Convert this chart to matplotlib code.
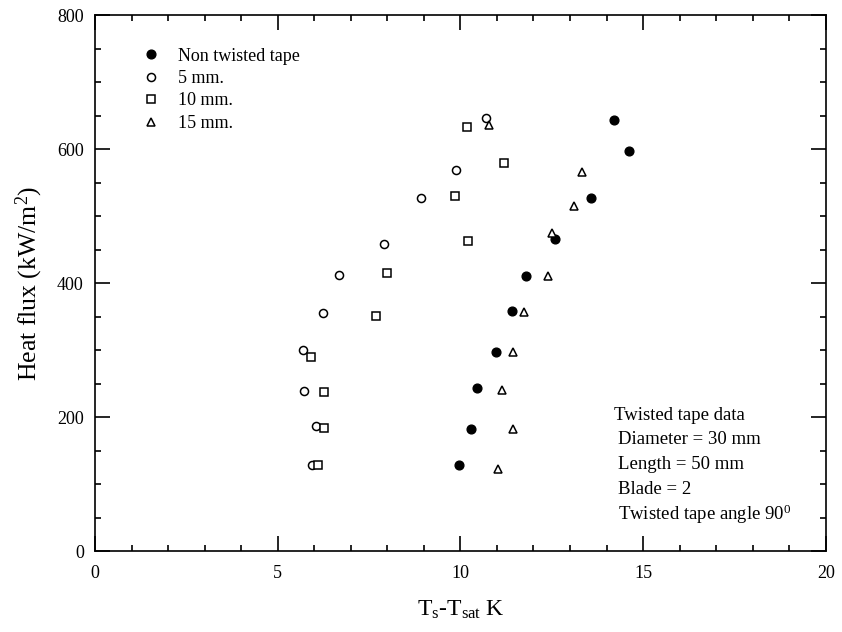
import matplotlib.pyplot as plt
from matplotlib.ticker import MultipleLocator

plt.rcParams['font.family'] = ['Liberation Serif', 'DejaVu Serif']
plt.rcParams['mathtext.fontset'] = 'custom'
plt.rcParams['mathtext.rm'] = 'Liberation Serif'
plt.rcParams['mathtext.it'] = 'Liberation Serif'

# Ts - Tsat (K) and heat flux (kW/m2)
plain_dt = [14.21, 14.62, 13.58, 12.6, 11.8, 11.42, 10.98, 10.46, 10.3, 9.97]
plain_q = [643, 597, 527, 466, 410, 358, 297, 243, 183, 128]

tape5_dt = [10.71, 9.89, 8.93, 7.92, 6.69, 6.23, 5.68, 5.71, 6.04, 5.93]
tape5_q = [646, 569, 527, 458, 412, 355, 300, 239, 187, 128]

tape10_dt = [10.19, 11.18, 9.84, 10.22, 8.0, 7.68, 5.9, 6.26, 6.26, 6.09]
tape10_q = [633, 579, 530, 463, 415, 351, 290, 238, 184, 128]

tape15_dt = [10.79, 13.33, 13.11, 12.51, 12.4, 11.75, 11.45, 11.15, 11.45, 11.04]
tape15_q = [636, 566, 515, 475, 410, 357, 297, 240, 182, 122]

fig = plt.figure(figsize=(8.42, 6.32), dpi=100)
ax = fig.add_axes([0.1128, 0.128, 0.868, 0.848])

ax.plot(plain_dt, plain_q, 'o', color='black', markersize=6.3, label='Non twisted tape')
ax.plot(tape5_dt, tape5_q, 'o', mfc='white', mec='black', mew=1.1, markersize=5.8, label='5 mm.')
ax.plot(tape10_dt, tape10_q, 's', mfc='white', mec='black', mew=1.1, markersize=5.5, label='10 mm.')
ax.plot(tape15_dt, tape15_q, '^', mfc='white', mec='black', mew=1.1, markersize=5.5, label='15 mm.')

ax.set_xlim(0, 20)
ax.set_ylim(0, 800)
ax.xaxis.set_major_locator(MultipleLocator(5))
ax.xaxis.set_minor_locator(MultipleLocator(1))
ax.yaxis.set_major_locator(MultipleLocator(200))
ax.yaxis.set_minor_locator(MultipleLocator(50))
ax.tick_params(which='both', direction='in', top=True, right=True, labelsize=13, width=1.2)
ax.tick_params(which='major', length=11, pad=10)
ax.tick_params(which='minor', length=4.5)
ax.tick_params(axis='y', which='major', pad=8)
for s in ax.spines.values():
    s.set_linewidth(1.2)

ax.set_ylabel('Heat flux (kW/m$^2$)', fontsize=18.5, labelpad=9)
ax.set_xlabel('T$_\\mathrm{s}$-T$_\\mathrm{sat}$ K', fontsize=17, labelpad=12)

ax.legend(loc='upper left', bbox_to_anchor=(0.045, 0.963), frameon=False, fontsize=13,
          handletextpad=0.85, borderaxespad=0.3, labelspacing=0.3, handlelength=1.2)

ax.text(14.2, 203, 'Twisted tape data', fontsize=13.5, va='center')
notes = ['Diameter = 30 mm', 'Length = 50 mm', 'Blade = 2', 'Twisted tape angle 90$^0$']
for i, line in enumerate(notes):
    ax.text(14.3, 167 - i * 37.5, line, fontsize=13.5, va='center')

fig.savefig('out.png', dpi=100)
